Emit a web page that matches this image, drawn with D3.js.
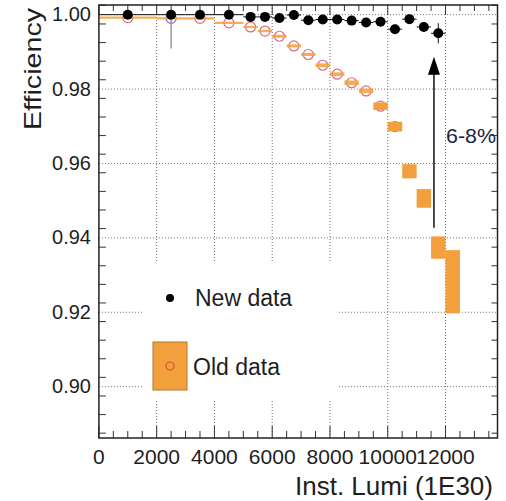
<!DOCTYPE html>
<html>
<head>
<meta charset="utf-8">
<script src="https://cdn.jsdelivr.net/npm/d3@7/dist/d3.min.js"></script>
<style>
  html, body { margin: 0; padding: 0; background: #fff; }
  svg { display: block; font-family: "Liberation Sans", Arial, Helvetica, sans-serif; }
</style>
</head>
<body>
<div id="chart-container"></div>
<script>
(function () {
    'use strict';

    // ---- data ----
    var newLumi    = [1000, 2500, 3500, 4500, 5250, 5750, 6250, 6750, 7250, 7750, 8250, 8750, 9250, 9750, 10250, 10750, 11250, 11750];
    var newLumiErr = [1000, 500, 500, 500, 250, 250, 250, 250, 250, 250, 250, 250, 250, 250, 250, 250, 250, 250];
    var newEff     = [1.0000, 1.0000, 1.0000, 1.0000, 0.9994, 0.9994, 0.9991, 0.9999, 0.9985, 0.9987, 0.9987, 0.9984, 0.9979, 0.9981, 0.9961, 0.9988, 0.9967, 0.9950];
    var newEffErr  = [0.0002, 0.0002, 0.0002, 0.0002, 0.0002, 0.0002, 0.0002, 0.0002, 0.0003, 0.0003, 0.0003, 0.0003, 0.0003, 0.0003, 0.0004, 0.0004, 0.0006, 0.0027];

    var oldLumi    = [1000, 2500, 3500, 4500, 5250, 5750, 6250, 6750, 7250, 7750, 8250, 8750, 9250, 9750, 10250, 10750, 11250, 11750, 12250];
    var oldLumiErr = [1000, 500, 500, 500, 250, 250, 250, 250, 250, 250, 250, 250, 250, 250, 250, 250, 250, 250, 250];
    var oldEff     = [0.9992, 0.9990, 0.9990, 0.9978, 0.9967, 0.9956, 0.9942, 0.9916, 0.9893, 0.9864, 0.9840, 0.9817, 0.9795, 0.9754, 0.9699, 0.9579, 0.9506, 0.9374, 0.9282];
    var oldEffErr  = [0.0003, 0.0003, 0.0003, 0.0003, 0.0003, 0.0003, 0.0004, 0.0004, 0.0004, 0.0005, 0.0005, 0.0006, 0.0006, 0.0010, 0.0013, 0.0019, 0.0025, 0.0030, 0.0085];
    var oldEffStat = [0, 0.0081, 0, 0, 0, 0, 0, 0, 0, 0, 0, 0, 0, 0, 0, 0, 0, 0, 0];

    var xTicks = [0, 2000, 4000, 6000, 8000, 10000, 12000];
    var yTicks = [0.90, 0.92, 0.94, 0.96, 0.98, 1.00];
    var arrowLumi = 11600;
    var arrowFrom = 0.9427;
    var arrowTo = 0.9887;

    var width = 506;
    var height = 501;

    var x = d3.scaleLinear().domain([0, 13800]).range([98.9, 497.5]);
    var y = d3.scaleLinear().domain([0.8862, 1.0026]).range([438, 5]);

    var svg = d3.select('#chart-container')
        .append('svg')
        .attr('width', width)
        .attr('height', height);

    var x0 = x.range()[0], x1 = x.range()[1];
    var y0 = y.range()[0], y1 = y.range()[1];

    // grid
    var grid = svg.append('g')
        .attr('stroke', '#6e6e6e')
        .attr('stroke-width', 1)
        .attr('stroke-dasharray', '1,2');
    grid.selectAll('line.gx')
        .data(xTicks.slice(1))
        .enter()
        .append('line')
        .attr('x1', function (d) { return x(d); })
        .attr('x2', function (d) { return x(d); })
        .attr('y1', y0)
        .attr('y2', y1);
    grid.selectAll('line.gy')
        .data(yTicks)
        .enter()
        .append('line')
        .attr('x1', x0)
        .attr('x2', x1)
        .attr('y1', function (d) { return y(d); })
        .attr('y2', function (d) { return y(d); });

    // legend background hides the grid behind it
    svg.append('rect')
        .attr('x', 143).attr('y', 263)
        .attr('width', 194).attr('height', 137)
        .attr('fill', '#fff');

    // frame ticks (ROOT style, inside, all four sides)
    var xMinor = d3.range(0, 13800, 500);
    var yMinor = d3.range(0, 24).map(function (i) { return +(0.8875 + i * 0.005).toFixed(4); })
        .filter(function (v) { return v < 1.0026; });
    var ticks = svg.append('g').attr('stroke', '#333').attr('stroke-width', 1);
    function isMajorX(v) { return v % 2000 === 0; }
    function isMajorY(v) { return Math.abs(v * 50 - Math.round(v * 50)) < 1e-6; }
    ticks.selectAll('line.bx')
        .data(xMinor)
        .enter()
        .append('line')
        .attr('x1', function (d) { return x(d); })
        .attr('x2', function (d) { return x(d); })
        .attr('y1', y0)
        .attr('y2', function (d) { return y0 - (isMajorX(d) ? 12 : 7); });
    ticks.selectAll('line.tx')
        .data(xMinor)
        .enter()
        .append('line')
        .attr('x1', function (d) { return x(d); })
        .attr('x2', function (d) { return x(d); })
        .attr('y1', y1)
        .attr('y2', function (d) { return y1 + (isMajorX(d) ? 10 : 6); });
    ticks.selectAll('line.ly')
        .data(yMinor)
        .enter()
        .append('line')
        .attr('y1', function (d) { return y(d); })
        .attr('y2', function (d) { return y(d); })
        .attr('x1', x0)
        .attr('x2', function (d) { return x0 + (isMajorY(d) ? 12 : 7); });
    ticks.selectAll('line.ry')
        .data(yMinor)
        .enter()
        .append('line')
        .attr('y1', function (d) { return y(d); })
        .attr('y2', function (d) { return y(d); })
        .attr('x1', x1)
        .attr('x2', function (d) { return x1 - (isMajorY(d) ? 12 : 6); });

    // old data
    var oldData = oldLumi.map(function (l, i) {
        return { lumi: l, lerr: oldLumiErr[i], eff: oldEff[i], err: oldEffErr[i], stat: oldEffStat[i] };
    });
    var oldG = svg.append('g');
    oldG.selectAll('line.stat')
        .data(oldData.filter(function (d) { return d.stat > 0; }))
        .enter()
        .append('line')
        .attr('x1', function (d) { return x(d.lumi); })
        .attr('x2', function (d) { return x(d.lumi); })
        .attr('y1', function (d) { return y(d.eff); })
        .attr('y2', function (d) { return y(d.eff - d.stat); })
        .attr('stroke', '#9a9a9a')
        .attr('stroke-width', 1.5);
    oldG.selectAll('circle')
        .data(oldData)
        .enter()
        .append('circle')
        .attr('cx', function (d) { return x(d.lumi); })
        .attr('cy', function (d) { return y(d.eff); })
        .attr('r', 5)
        .attr('fill', 'none')
        .attr('stroke', function (d) { return d.stat > 0 ? '#9a6ac8' : '#e2697a'; })
        .attr('stroke-width', 1.2);
    oldG.selectAll('rect')
        .data(oldData)
        .enter()
        .append('rect')
        .attr('x', function (d) { return x(d.lumi - d.lerr); })
        .attr('width', function (d) { return x(d.lumi + d.lerr) - x(d.lumi - d.lerr); })
        .attr('y', function (d) { return y(d.eff + d.err); })
        .attr('height', function (d) { return Math.max(1.5, y(d.eff - d.err) - y(d.eff + d.err)); })
        .attr('fill', '#f2a03d')
        .attr('opacity', function (d) { return d.err < 0.001 ? 0.85 : 1; });

    // new data
    var newData = newLumi.map(function (l, i) {
        return { lumi: l, lerr: newLumiErr[i], eff: newEff[i], err: newEffErr[i] };
    });
    var newG = svg.append('g');
    newG.selectAll('line.h')
        .data(newData)
        .enter()
        .append('line')
        .attr('x1', function (d) { return x(d.lumi - d.lerr); })
        .attr('x2', function (d) { return x(d.lumi + d.lerr); })
        .attr('y1', function (d) { return y(d.eff); })
        .attr('y2', function (d) { return y(d.eff); })
        .attr('stroke', '#111')
        .attr('stroke-width', 1);
    newG.selectAll('line.v')
        .data(newData)
        .enter()
        .append('line')
        .attr('x1', function (d) { return x(d.lumi); })
        .attr('x2', function (d) { return x(d.lumi); })
        .attr('y1', function (d) { return y(d.eff + d.err); })
        .attr('y2', function (d) { return y(d.eff - d.err); })
        .attr('stroke', '#111')
        .attr('stroke-width', 1);
    newG.selectAll('circle')
        .data(newData)
        .enter()
        .append('circle')
        .attr('cx', function (d) { return x(d.lumi); })
        .attr('cy', function (d) { return y(d.eff); })
        .attr('r', 5)
        .attr('fill', '#000');

    // frame
    svg.append('rect')
        .attr('x', x0).attr('y', y1)
        .attr('width', x1 - x0).attr('height', y0 - y1)
        .attr('fill', 'none')
        .attr('stroke', '#222')
        .attr('stroke-width', 1.5);

    // tick labels
    svg.append('g').selectAll('text')
        .data(xTicks)
        .enter()
        .append('text')
        .attr('x', function (d) { return x(d); })
        .attr('y', 464)
        .attr('text-anchor', 'middle')
        .attr('font-size', 21)
        .attr('fill', '#1e1e1e')
        .text(function (d) { return d; });
    svg.append('g').selectAll('text')
        .data(yTicks)
        .enter()
        .append('text')
        .attr('x', 91)
        .attr('y', function (d) { return y(d) + 6.5; })
        .attr('text-anchor', 'end')
        .attr('font-size', 20)
        .attr('fill', '#1e1e1e')
        .text(function (d) { return d3.format('.2f')(d); });

    // axis titles
    svg.append('text')
        .attr('x', 493)
        .attr('y', 495)
        .attr('text-anchor', 'end')
        .attr('font-size', 26)
        .attr('fill', '#1e1e1e')
        .text('Inst. Lumi (1E30)');
    svg.append('text')
        .attr('transform', 'translate(41,69) rotate(-90)')
        .attr('text-anchor', 'middle')
        .attr('font-size', 24)
        .attr('fill', '#1e1e1e')
        .attr('textLength', 122)
        .attr('lengthAdjust', 'spacingAndGlyphs')
        .text('Efficiency');

    // arrow annotation
    svg.append('line')
        .attr('x1', x(arrowLumi)).attr('x2', x(arrowLumi))
        .attr('y1', y(arrowFrom)).attr('y2', y(arrowTo) + 12)
        .attr('stroke', '#111')
        .attr('stroke-width', 1.5);
    var ax = x(arrowLumi), ay = y(arrowTo);
    svg.append('path')
        .attr('d', 'M' + ax + ',' + ay + 'L' + (ax - 6) + ',' + (ay + 18) + 'L' + (ax + 6) + ',' + (ay + 18) + 'Z')
        .attr('fill', '#000');
    svg.append('text')
        .attr('x', 446)
        .attr('y', 143)
        .attr('font-size', 20)
        .attr('fill', '#1b2440')
        .attr('textLength', 50)
        .attr('lengthAdjust', 'spacingAndGlyphs')
        .text('6-8%');

    // legend
    svg.append('circle')
        .attr('cx', 170).attr('cy', 298)
        .attr('r', 4)
        .attr('fill', '#000');
    svg.append('text')
        .attr('x', 195).attr('y', 306)
        .attr('font-size', 23)
        .attr('fill', '#1e1e1e')
        .text('New data');
    svg.append('rect')
        .attr('x', 153).attr('y', 342)
        .attr('width', 34).attr('height', 48)
        .attr('fill', '#f2a03d')
        .attr('stroke', '#b8742a')
        .attr('stroke-width', 1);
    svg.append('circle')
        .attr('cx', 170).attr('cy', 366)
        .attr('r', 4)
        .attr('fill', 'none')
        .attr('stroke', '#d9503e')
        .attr('stroke-width', 1.2);
    svg.append('text')
        .attr('x', 193).attr('y', 375)
        .attr('font-size', 23)
        .attr('fill', '#1e1e1e')
        .text('Old data');
}());
</script>
</body>
</html>
